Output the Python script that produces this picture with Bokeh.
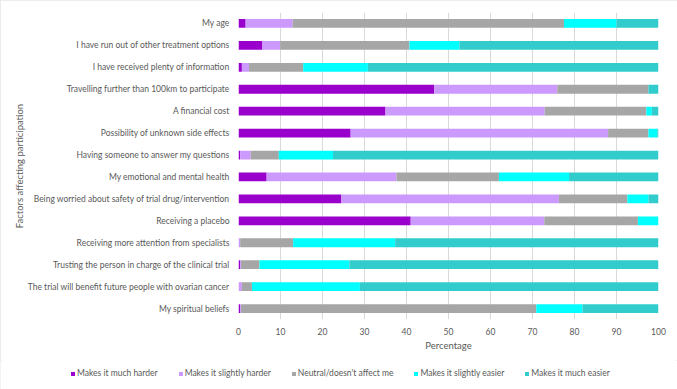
from bokeh.plotting import figure
from bokeh.layouts import column
from bokeh.models import FactorRange, Range1d, Legend, LegendItem, SingleIntervalTicker, ColumnDataSource
from bokeh.embed import file_html
from bokeh.resources import INLINE

categories = [
    "My age",
    "I have run out of other treatment options",
    "I have received plenty of information",
    "Travelling further than 100km to participate",
    "A financial cost",
    "Possibility of unknown side effects",
    "Having someone to answer my questions",
    "My emotional and mental health",
    "Being worried about safety of trial drug/intervention",
    "Receiving a placebo",
    "Receiving more attention from specialists",
    "Trusting the person in charge of the clinical trial",
    "The trial will benefit future people with ovarian cancer",
    "My spiritual beliefs",
]
much_harder = [1.7, 5.7, 0.8, 46.6, 35.0, 26.7, 0.4, 6.7, 24.5, 41.0, 0.0, 0.4, 0.0, 0.4]
slightly_harder = [11.2, 4.2, 1.7, 29.3, 37.9, 61.3, 2.5, 30.9, 51.8, 31.8, 0.4, 0.2, 0.8, 0.2]
neutral = [64.6, 30.8, 12.9, 21.7, 24.2, 9.6, 6.7, 24.4, 16.3, 22.3, 12.6, 4.4, 2.4, 70.3]
slightly_easier = [12.5, 11.9, 15.4, 0.0, 1.3, 2.1, 12.9, 16.7, 5.0, 4.9, 24.3, 21.4, 25.7, 11.0]
much_easier = [10.0, 47.4, 69.2, 2.4, 1.6, 0.3, 77.5, 21.3, 2.4, 0.0, 62.7, 73.6, 71.1, 18.1]

series_keys = ["much_harder", "slightly_harder", "neutral", "slightly_easier", "much_easier"]
series_labels = ["Makes it much harder", "Makes it slightly harder", "Neutral/doesn't affect me",
                 "Makes it slightly easier", "Makes it much easier"]
colors = ["#9900CC", "#CC99FF", "#A6A6A6", "#00FFFF", "#33CCCC"]

source = ColumnDataSource(dict(
    cat=categories, much_harder=much_harder, slightly_harder=slightly_harder,
    neutral=neutral, slightly_easier=slightly_easier, much_easier=much_easier,
))

FONT = "Lato"
TXT = "#595959"
NAN = float("nan")

p = figure(
    width=677, height=360,
    y_range=FactorRange(factors=list(reversed(categories))),
    x_range=Range1d(0, 100),
    output_backend="svg", toolbar_location=None,
    min_border_left=238, min_border_right=19, min_border_top=12, min_border_bottom=41,
)
p.frame_align = False

renderers = p.hbar_stack(series_keys, y="cat", height=0.4, color=colors, source=source, line_width=0)

p.outline_line_color = None
p.ygrid.grid_line_color = None
p.xgrid.grid_line_color = "#D9D9D9"
p.xgrid.grid_line_width = 1

p.xaxis.ticker = SingleIntervalTicker(interval=10)
p.xaxis.axis_line_color = None
p.xaxis.major_tick_line_color = None
p.xaxis.minor_tick_line_color = None
p.xaxis.major_tick_out = 0
p.xaxis.major_tick_in = 0
p.xaxis.major_label_standoff = 4
p.xaxis.axis_label = "Percentage"
p.xaxis.axis_label_standoff = 2
p.xaxis.axis_label_text_font_style = "normal"

p.yaxis.axis_line_color = None
p.yaxis.major_tick_line_color = None
p.yaxis.minor_tick_line_color = None
p.yaxis.major_tick_out = 0
p.yaxis.major_tick_in = 0
p.yaxis.major_label_standoff = 9
p.yaxis.axis_label = "Factors affecting participation"
p.yaxis.axis_label_standoff = 0
p.yaxis.axis_label_text_font_style = "normal"

for ax in (p.xaxis[0], p.yaxis[0]):
    ax.major_label_text_font = FONT
    ax.major_label_text_font_size = "8.5px"
    ax.major_label_text_color = TXT
    ax.axis_label_text_font = FONT
    ax.axis_label_text_font_size = "9.5px"
    ax.axis_label_text_color = TXT

# legend strip below the chart (swatch renderers carry no visible data)
lg = figure(
    width=677, height=29, x_range=Range1d(0, 1), y_range=Range1d(0, 1),
    output_backend="svg", toolbar_location=None,
    x_axis_location=None, y_axis_location=None,
    min_border=0, min_border_left=0, min_border_right=0, min_border_top=0, min_border_bottom=0,
)
lg.frame_align = False
lg.outline_line_color = None
lg.grid.visible = False
swatches = [lg.quad(left=[NAN], right=[NAN], top=[NAN], bottom=[NAN], fill_color=c, line_color=None)
            for c in colors]

legend = Legend(
    items=[LegendItem(label=lab, renderers=[r]) for lab, r in zip(series_labels, swatches)],
    orientation="horizontal", location=(70, 11),
    glyph_width=5, glyph_height=5, label_standoff=2, spacing=20,
    label_text_font=FONT, label_text_font_size="8.5px", label_text_color=TXT,
    border_line_color=None, background_fill_alpha=0, padding=2, margin=0,
)
lg.add_layout(legend, "center")

layout = column(p, lg, spacing=0)
layout.styles = {"outline": "2px solid #e6e6e6", "outline-offset": "-2px"}

open("out.html", "w").write(file_html(layout, INLINE))
